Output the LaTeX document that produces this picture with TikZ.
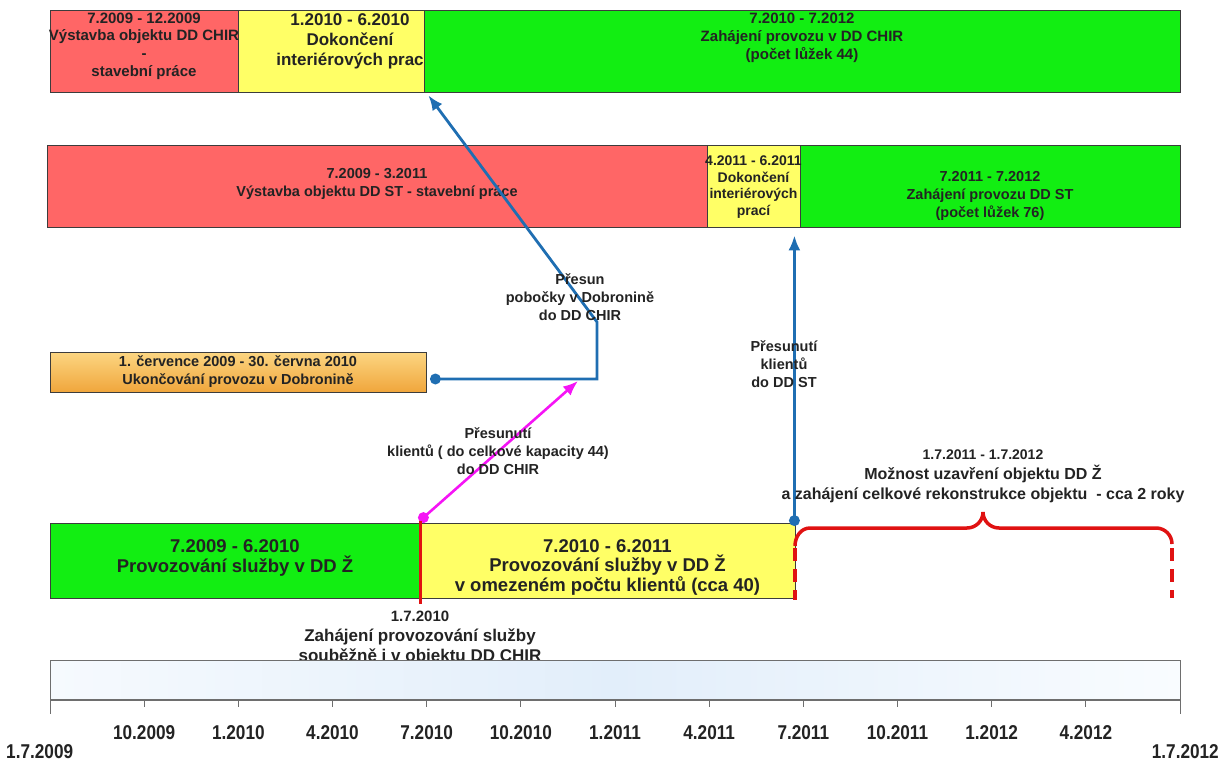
\documentclass[tikz,border=0pt]{standalone}
\usepackage{fontspec}
\setmainfont{Liberation Sans}
\newfontfamily\narrowsans[FakeStretch=0.86]{Liberation Sans}
\usetikzlibrary{arrows.meta,calc,positioning}

\definecolor{barred}{RGB}{255,102,102}
\definecolor{baryellow}{RGB}{255,255,102}
\definecolor{bargreen}{RGB}{18,238,18}
\definecolor{bordergray}{RGB}{60,60,60}
\definecolor{flowblue}{RGB}{31,110,178}
\definecolor{flowpink}{RGB}{245,20,245}
\definecolor{bracered}{RGB}{224,18,18}
\definecolor{txtgray}{RGB}{35,35,35}
\definecolor{orangetop}{RGB}{252,214,130}
\definecolor{orangebot}{RGB}{240,166,60}
\definecolor{axisgray}{RGB}{110,110,110}
\definecolor{axisleft}{RGB}{246,250,254}
\definecolor{axismid}{RGB}{226,238,250}
\definecolor{axisright}{RGB}{249,252,255}

\newcommand\fsmall{\fontsize{14.5pt}{18pt}\selectfont\bfseries}
\newcommand\ftop{\fontsize{15pt}{17.7pt}\selectfont\bfseries}
\newcommand\fnarrow{\fontsize{14pt}{16.7pt}\selectfont\bfseries}
\newcommand\fmid{\fontsize{16pt}{20pt}\selectfont\bfseries}
\newcommand\flarge{\fontsize{17pt}{20pt}\selectfont\bfseries}
\newcommand\fbottom{\fontsize{18.5pt}{19.5pt}\selectfont\bfseries}
\newcommand\ftick{\narrowsans\fontsize{20pt}{24pt}\selectfont\bfseries}

\begin{document}
\begin{tikzpicture}[x=1pt,y=-1pt,
    bar/.style={draw=bordergray, line width=0.8pt, inner sep=0pt},
    txt/.style={text=txtgray, align=center, inner sep=0pt},
    flow/.style={draw=flowblue, line width=2.8pt, -{Latex[length=15pt,width=12pt]}},
    pinkflow/.style={draw=flowpink, line width=2.6pt, -{Latex[length=15pt,width=12pt]}},
    bracepath/.style={draw=bracered, line width=3.5pt},
    tick/.style={draw=axisgray, line width=1pt},
    ticklbl/.style={text=txtgray, inner sep=0pt, font=\ftick}]
  \useasboundingbox (0,0) rectangle (1221,765);

  % DD CHIR
  \node[bar, fill=barred, minimum width=188, minimum height=82] (chirbuild) at (144,51) {};
  \node[bar, fill=baryellow, minimum width=186, minimum height=82] (chirint) at (331,51) {};
  \node[txt, font=\flarge] (chirinttxt) at (350,41) {1.2010 - 6.2010\\Dokončení\\interiérových prac};
  \node[bar, fill=bargreen, minimum width=756, minimum height=82] (chirrun) at (802,51) {};
  \node[txt, font=\ftop] (chirbuildtxt) at (144,46) {7.2009 - 12.2009\\Výstavba objektu DD CHIR\\-\\stavební práce};
  \node[txt, font=\ftop] (chirruntxt) at (802,38) {7.2010 - 7.2012\\Zahájení provozu v DD CHIR\\(počet lůžek 44)};

  % DD ST
  \node[bar, fill=barred, minimum width=660, minimum height=82] (stbuild) at (377,186) {};
  \node[bar, fill=baryellow, minimum width=93, minimum height=82] (stint) at (753.5,186) {};
  \node[bar, fill=bargreen, minimum width=380, minimum height=82] (strun) at (990,186) {};
  \node[txt, font=\fsmall] (stbuildtxt) at (377,184) {7.2009 - 3.2011\\Výstavba objektu DD ST - stavební práce};
  \node[txt, font=\fnarrow] (stinttxt) at (753.5,187) {4.2011 - 6.2011\\Dokončení\\interiérových\\prací};
  \node[txt, font=\fsmall] (struntxt) at (990,196) {7.2011 - 7.2012\\Zahájení provozu DD ST\\(počet lůžek 76)};

  % Dobronin
  \node[bar, top color=orangetop, bottom color=orangebot, minimum width=376, minimum height=40] (dobr) at (238,372) {};
  \node[txt, font=\fsmall] (dobrtxt) at (238,372) {1. července 2009 - 30. června 2010\\Ukončování provozu v Dobronině};

  % DD Z
  \node[bar, fill=bargreen, minimum width=370, minimum height=75] (provz) at (235,560.5) {};
  \node[bar, fill=baryellow, minimum width=375, minimum height=75] (provlim) at (607.5,560.5) {};
  \node[txt, font=\fbottom] (provztxt) at (235,558) {7.2009 - 6.2010\\Provozování služby v DD Ž};
  \node[txt, font=\fbottom] (provlimtxt) at (607.5,567) {7.2010 - 6.2011\\Provozování služby v DD Ž\\v omezeném počtu klientů (cca 40)};

  % presuny
  \coordinate (pobdot) at ($(dobr.east)+(9,7)$);
  \coordinate (bendlow) at (597,379);
  \coordinate (bendup) at (597,322);
  \coordinate (chirtip) at ($(chirint.south east)+(4,3)$);
  \draw[flow] (pobdot) -- (bendlow) -- (bendup) -- (chirtip);
  \fill[flowblue] (pobdot) circle (5.5pt);

  \coordinate (pinkdot) at ($(provz.north east)+(3,-5)$);
  \coordinate (pinktip) at ($(bendlow)+(-19,2)$);
  \draw[pinkflow] (pinkdot) -- (pinktip);
  \fill[flowpink] (pinkdot) circle (5.5pt);

  \coordinate (stdot) at ($(provlim.north east)+(-1,-2)$);
  \coordinate (sttip) at ($(stdot |- stint.south)+(0,8)$);
  \draw[flow] (stdot) -- (sttip);
  \fill[flowblue] (stdot) circle (5.5pt);

  \draw[draw=bracered, line width=3.5pt] ($(provz.north east)+(0,-2)$) -- ($(provz.south east)+(0,6)$);

  \node[txt, font=\fsmall] (pobtxt) at (580,297) {Přesun\\pobočky v Dobronině\\do DD CHIR};
  \node[txt, font=\fsmall] (klchirtxt) at (498,451) {Přesunutí\\klientů ( do celkové kapacity 44)\\do DD CHIR};
  \node[txt, font=\fsmall] (klsttxt) at (784,364) {Přesunutí\\klientů\\do DD ST};

  % uzavreni DD Z
  \draw[bracepath] (795,546) to[out=90,in=180] (810,528) -- (967,528)
    to[out=0,in=-90] (983,512) to[out=-90,in=180] (999,528) -- (1156,528)
    to[out=0,in=90] (1172,544);
  \draw[bracepath, dash pattern=on 13pt off 8pt] (795,548) -- (795,600);
  \draw[bracepath, dash pattern=on 13pt off 8pt] (1172,548) -- (1172,598);
  \node[txt, font=\fmid] (bracetxt) at (983,476) {{\fnarrow 1.7.2011 - 1.7.2012}\\Možnost uzavření objektu DD Ž\\a zahájení celkové rekonstrukce objektu\ \ - cca 2 roky};

  \node[txt, font=\flarge] (starttxt) at (420,638) {{\ftop 1.7.2010}\\Zahájení provozování služby\\souběžně i v objektu DD CHIR};

  % casova osa
  \draw[draw=axisgray, line width=0.8pt, left color=axisleft, right color=axisright, middle color=axismid]
    (50,660) rectangle (1180,700);
  \draw[axisgray, line width=1.6pt] (50,700) -- (1180,700);
  \draw[tick] (50,700) -- ++(0,14);
  \draw[tick] (1180,700) -- ++(0,14);
  \foreach \lbl [count=\i] in {10.2009,1.2010,4.2010,7.2010,10.2010,1.2011,4.2011,7.2011,10.2011,1.2012,4.2012} {
    \draw[tick] (50+94.1667*\i,700) -- ++(0,7);
    \node[ticklbl] (tl\i) at (50+94.1667*\i,733) {\lbl};
  }
  \node[ticklbl, anchor=west] (tlstart) at (6,752) {1.7.2009};
  \node[ticklbl, anchor=east] (tlend) at (1219,752) {1.7.2012};
\end{tikzpicture}
\end{document}
